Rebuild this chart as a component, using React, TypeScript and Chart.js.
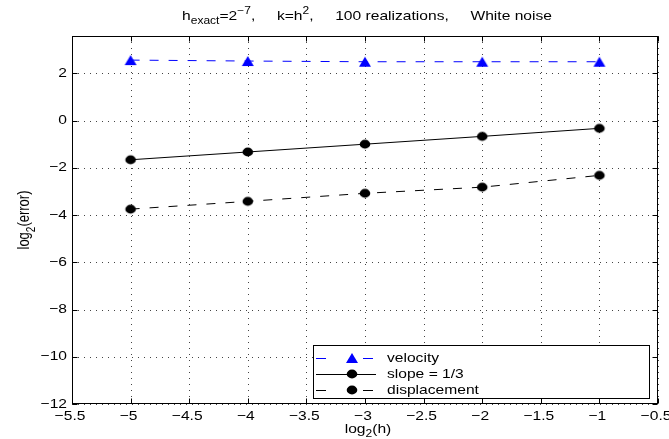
import React, { useEffect, useRef } from 'react';
import { Chart, registerables } from 'chart.js';

Chart.register(...registerables);

// ---- data ----
const xValues = [-5, -4, -3, -2, -1];
const velocity = [2.56, 2.52, 2.49, 2.49, 2.49];
const slopeLine = [-1.66, -1.33, -1.0, -0.67, -0.33];
const displacement = [-3.75, -3.42, -3.08, -2.82, -2.32];
const xTicks = [-5.5, -5, -4.5, -4, -3.5, -3, -2.5, -2, -1.5, -1, -0.5];
const yTicks = [-12, -10, -8, -6, -4, -2, 0, 2];
const seriesLabels = ['velocity', 'slope = 1/3', 'displacement'];
const xLimits = [-5.5, -0.5];
const yLimits = [-12, 3.58];

const FONT = '"Liberation Sans", Arial, Helvetica, sans-serif';
const FS = 13; // font size
const SX = 1.2; // horizontal stretch of the original rendering

type Part = { t: string; m?: 'sub' | 'sup' };

function richWidth(ctx: CanvasRenderingContext2D, parts: Part[], size: number) {
  let w = 0;
  for (const p of parts) {
    ctx.font = `${p.m ? Math.round(size * 0.75) : size}px ${FONT}`;
    w += ctx.measureText(p.t).width;
  }
  return w;
}

// draws centered at (0,0) in current transform
function drawRich(ctx: CanvasRenderingContext2D, parts: Part[], size: number) {
  const w = richWidth(ctx, parts, size);
  let x = -w / 2;
  ctx.textBaseline = 'middle';
  ctx.textAlign = 'left';
  for (const p of parts) {
    const s = p.m ? Math.round(size * 0.75) : size;
    ctx.font = `${s}px ${FONT}`;
    const dy = p.m === 'sub' ? size * 0.4 : p.m === 'sup' ? -size * 0.4 : 0;
    ctx.fillText(p.t, x, dy);
    x += ctx.measureText(p.t).width;
  }
}

function stretchedText(ctx: CanvasRenderingContext2D, text: string, x: number, y: number, align: CanvasTextAlign) {
  ctx.save();
  ctx.translate(x, y);
  ctx.scale(SX, 1);
  ctx.font = `${FS}px ${FONT}`;
  ctx.textAlign = align;
  ctx.textBaseline = 'middle';
  ctx.fillText(text, 0, 0);
  ctx.restore();
}

const titleParts: Part[] = [
  { t: 'h' }, { t: 'exact', m: 'sub' }, { t: '=2' }, { t: '\u22127', m: 'sup' },
  { t: ',     k=h' }, { t: '2', m: 'sup' }, { t: ',     100 realizations,     White noise' },
];
const xLabelParts: Part[] = [{ t: 'log' }, { t: '2', m: 'sub' }, { t: '(h)' }];
const yLabelParts: Part[] = [{ t: 'log' }, { t: '2', m: 'sub' }, { t: '(error)' }];

function fmt(v: number) {
  const r = Math.round(v * 10) / 10;
  return r < 0 ? '\u2212' + String(Math.abs(r)) : String(r);
}

function makeMarker(kind: 'circle' | 'triangle', color: string) {
  const c = document.createElement('canvas');
  c.width = 16;
  c.height = 16;
  const g = c.getContext('2d')!;
  g.fillStyle = color;
  g.beginPath();
  if (kind === 'circle') {
    g.ellipse(8, 8, 5.3, 4.4, 0, 0, Math.PI * 2);
  } else {
    g.moveTo(8, 3);
    g.lineTo(14, 13);
    g.lineTo(2, 13);
    g.closePath();
  }
  g.fill();
  return c;
}

const framePlugin = {
  id: 'frame',
  beforeDatasetsDraw(chart: any) {
    const { ctx, chartArea: a, scales } = chart;
    ctx.save();
    ctx.strokeStyle = '#444';
    ctx.lineWidth = 1;
    ctx.setLineDash([1, 5]);
    for (const v of xTicks) {
      const x = Math.round(scales.x.getPixelForValue(v)) + 0.5;
      ctx.beginPath();
      ctx.moveTo(x, a.top);
      ctx.lineTo(x, a.bottom);
      ctx.stroke();
    }
    for (const v of yTicks) {
      const y = Math.round(scales.y.getPixelForValue(v)) + 0.5;
      ctx.beginPath();
      ctx.moveTo(a.left, y);
      ctx.lineTo(a.right, y);
      ctx.stroke();
    }
    ctx.restore();
  },
  afterDatasetsDraw(chart: any) {
    const { ctx, chartArea: a, scales, data } = chart;
    ctx.save();
    ctx.setLineDash([]);
    ctx.strokeStyle = '#000';
    ctx.lineWidth = 1;
    const L = Math.round(a.left) + 0.5, R = Math.round(a.right) - 0.5;
    const T = Math.round(a.top) + 0.5, B = Math.round(a.bottom) - 0.5;
    ctx.strokeRect(L, T, R - L, B - T);
    const tl = 5;
    ctx.beginPath();
    for (const v of xTicks) {
      const x = Math.round(scales.x.getPixelForValue(v)) + 0.5;
      ctx.moveTo(x, B); ctx.lineTo(x, B - tl);
      ctx.moveTo(x, T); ctx.lineTo(x, T + tl);
    }
    for (const v of yTicks) {
      const y = Math.round(scales.y.getPixelForValue(v)) + 0.5;
      ctx.moveTo(L, y); ctx.lineTo(L + tl, y);
      ctx.moveTo(R, y); ctx.lineTo(R - tl, y);
    }
    ctx.stroke();

    // tick labels
    ctx.fillStyle = '#000';
    for (const v of xTicks) {
      const x = scales.x.getPixelForValue(v) - 2;
      stretchedText(ctx, fmt(v), x, a.bottom + 12, 'center');
    }
    for (const v of yTicks) {
      const y = scales.y.getPixelForValue(v);
      stretchedText(ctx, fmt(v), a.left - 5, y, 'right');
    }

    // title and axis labels
    const cx = (a.left + a.right) / 2;
    ctx.save();
    ctx.translate(cx + 2, 16);
    ctx.scale(SX, 1);
    drawRich(ctx, titleParts, FS);
    ctx.restore();
    ctx.save();
    ctx.translate(cx + 3, 429);
    ctx.scale(SX, 1);
    drawRich(ctx, xLabelParts, FS);
    ctx.restore();
    ctx.save();
    ctx.translate(25, (a.top + a.bottom) / 2);
    ctx.scale(SX, 1);
    ctx.rotate(-Math.PI / 2);
    drawRich(ctx, yLabelParts, FS);
    ctx.restore();

    // legend
    const bx = 313.5, by = 345.5, bw = 336, bh = 53;
    ctx.fillStyle = '#fff';
    ctx.fillRect(bx, by, bw, bh);
    ctx.strokeStyle = '#000';
    ctx.lineWidth = 1;
    ctx.strokeRect(bx, by, bw, bh);
    const rows = [358, 374, 390];
    const mx = 352;
    data.datasets.forEach((ds: any, i: number) => {
      const y = Math.round(rows[i]) + 0.5;
      ctx.save();
      ctx.strokeStyle = ds.borderColor;
      ctx.lineWidth = 1;
      ctx.beginPath();
      if (ds.borderDash && ds.borderDash.length) {
        ctx.moveTo(316, y); ctx.lineTo(326, y);
        ctx.moveTo(363, y); ctx.lineTo(373, y);
      } else {
        ctx.moveTo(316, y); ctx.lineTo(376, y);
      }
      ctx.stroke();
      ctx.restore();
      const img = ds.pointStyle as HTMLCanvasElement;
      ctx.drawImage(img, mx - img.width / 2, rows[i] - img.height / 2);
      ctx.fillStyle = '#000';
      stretchedText(ctx, ds.label, 387, rows[i], 'left');
    });
    ctx.restore();
  },
};

export default function App() {
  const ref = useRef<HTMLCanvasElement | null>(null);
  useEffect(() => {
    document.body.style.margin = '0';
    const canvas = ref.current!;
    const mk = (ys: number[]) => xValues.map((x, i) => ({ x, y: ys[i] }));
    const tri = makeMarker('triangle', '#0000ff');
    const dot = makeMarker('circle', '#000000');
    const chart = new Chart(canvas, {
      type: 'line',
      data: {
        datasets: [
          {
            label: seriesLabels[0], data: mk(velocity), borderColor: '#0000ff', borderWidth: 1,
            borderDash: [9, 10], pointStyle: tri, pointRadius: 6, fill: false,
          },
          {
            label: seriesLabels[1], data: mk(slopeLine), borderColor: '#000000', borderWidth: 1,
            pointStyle: dot, pointRadius: 5, fill: false,
          },
          {
            label: seriesLabels[2], data: mk(displacement), borderColor: '#000000', borderWidth: 1,
            borderDash: [9, 10], pointStyle: dot, pointRadius: 5, fill: false,
          },
        ] as any,
      },
      options: {
        responsive: false,
        animation: false,
        layout: { padding: { top: 36, right: 11, left: 0, bottom: 0 } },
        plugins: { legend: { display: false }, tooltip: { enabled: false }, title: { display: false } },
        scales: {
          x: {
            type: 'linear', min: xLimits[0], max: xLimits[1],
            grid: { display: false }, border: { display: false },
            afterBuildTicks: (s: any) => { s.ticks = xTicks.map((v) => ({ value: v })); },
            afterFit: (s: any) => { s.height = 35; },
            ticks: { display: false },
          },
          y: {
            type: 'linear', min: yLimits[0], max: yLimits[1],
            grid: { display: false }, border: { display: false },
            afterBuildTicks: (s: any) => { s.ticks = yTicks.map((v) => ({ value: v })); },
            afterFit: (s: any) => { s.width = 72; },
            ticks: { display: false },
          },
        },
      } as any,
      plugins: [framePlugin],
    });
    return () => chart.destroy();
  }, []);
  return <canvas ref={ref} width={669} height={439} style={{ display: 'block' }} />;
}
